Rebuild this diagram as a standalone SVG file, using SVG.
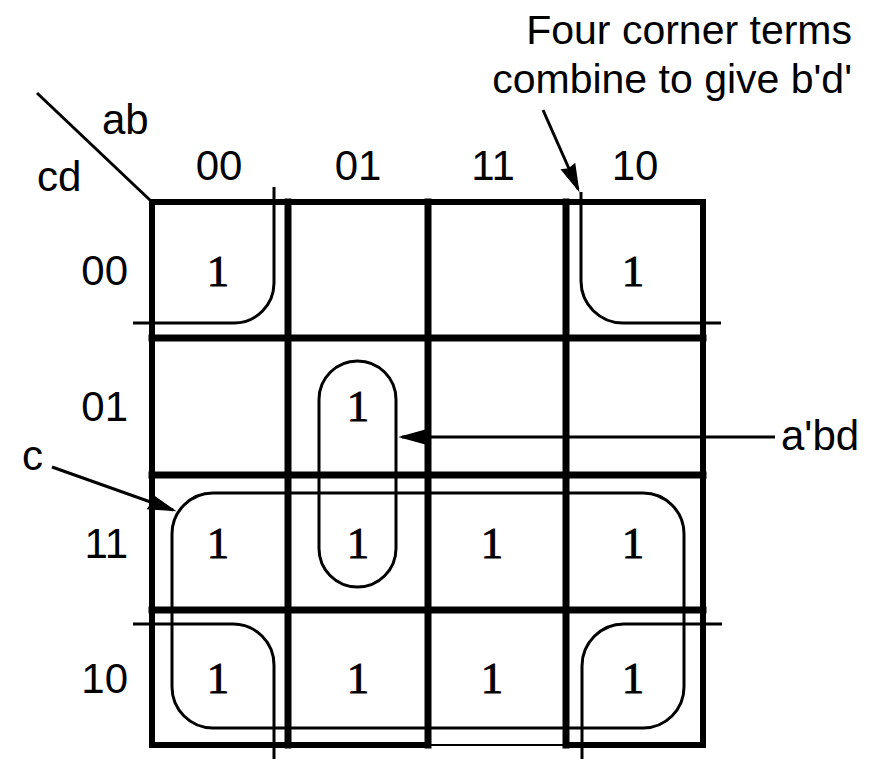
<svg xmlns="http://www.w3.org/2000/svg" width="883" height="759" viewBox="0 0 883 759">
<style>
.lbl{font-family:"Liberation Sans",Arial,sans-serif;font-size:42px;fill:#000}
.ttl{font-family:"Liberation Sans",Arial,sans-serif;font-size:41px;fill:#000;text-anchor:end}
.one{font-family:"Liberation Serif","Times New Roman",serif;font-size:45px;fill:#000;stroke:#000;stroke-width:0.9;text-anchor:middle}
.g{stroke:#000;stroke-width:7;fill:none;stroke-linecap:square}
.go{stroke:#000;stroke-width:6;fill:none;stroke-linecap:square}
.loop{stroke:#000;stroke-width:3;fill:none}
.conn{stroke:#000;stroke-width:3;fill:none}
</style>
<defs>
<marker id="ah" markerUnits="userSpaceOnUse" markerWidth="40" markerHeight="24" viewBox="-30 -12 40 24" refX="0" refY="0" orient="auto" overflow="visible">
<path d="M1,0 L-24,-7 L-22,0 L-24,7 Z" fill="#000" stroke="#000" stroke-width="1.5" stroke-linejoin="miter"/>
</marker>
</defs>
<rect width="883" height="759" fill="#fff"/>

<g id="grid">
<path class="go" d="M152,202 H703 V745 M152,202 V745 H428 M566,745 H703"/>
<path d="M428,745 H566" stroke="#000" stroke-width="2"/>
<path class="g" d="M288,202 V745 M428,202 V745 M566,202 V745 M152,338 H703 M152,475 H703 M152,610 H703"/>
</g>

<g id="corner-label">
<line x1="37" y1="93" x2="152" y2="202" stroke="#000" stroke-width="3"/>
<text class="lbl" x="102" y="134">ab</text>
<text class="lbl" x="37" y="191">cd</text>
</g>

<g id="col-headers" class="lbl" text-anchor="middle">
<text x="219" y="180">00</text>
<text x="358" y="180">01</text>
<text x="493" y="180">11</text>
<text x="635" y="180">10</text>
</g>
<g id="row-headers" class="lbl" text-anchor="end">
<text x="128" y="285">00</text>
<text x="128" y="421">01</text>
<text x="128" y="558">11</text>
<text x="128" y="693">10</text>
</g>

<g id="cells">
<g id="m0"><text class="one" x="218" y="286">1</text></g>
<g id="m8"><text class="one" x="633" y="286">1</text></g>
<g id="m5"><text class="one" x="358" y="421">1</text></g>
<g id="m3"><text class="one" x="218" y="558">1</text></g>
<g id="m7"><text class="one" x="358" y="558">1</text></g>
<g id="m15"><text class="one" x="492" y="558">1</text></g>
<g id="m11"><text class="one" x="633" y="558">1</text></g>
<g id="m2"><text class="one" x="218" y="693">1</text></g>
<g id="m6"><text class="one" x="358" y="693">1</text></g>
<g id="m14"><text class="one" x="492" y="693">1</text></g>
<g id="m10"><text class="one" x="633" y="693">1</text></g>
</g>

<g id="groups">
<g id="loop-bd"><path class="loop" d="M274,187 V283 A40,40 0 0 1 234,323 H133"/>
<path class="loop" d="M581,192 V281 A42,42 0 0 0 623,323 H721"/>
<path class="loop" d="M133,624 H233 A41,41 0 0 1 274,665 V759"/>
<path class="loop" d="M722,624 H624 A42,42 0 0 0 582,666 V759"/></g>
<g id="loop-c"><rect class="loop" x="172" y="493" width="512" height="235" rx="41"/></g>
<g id="loop-abd"><rect class="loop" x="319" y="361" width="77" height="226" rx="38.5"/></g>
</g>

<g id="annotations">
<text class="ttl" x="852" y="44">Four corner terms</text>
<text class="ttl" x="852" y="93">combine to give b'd'</text>
<text class="lbl" x="781" y="450">a'bd</text>
<text class="lbl" x="22" y="470">c</text>
</g>

<g id="connectors">
<line class="conn" x1="543" y1="110" x2="578" y2="189" marker-end="url(#ah)"/>
<line class="conn" x1="775" y1="437" x2="402" y2="437" marker-end="url(#ah)"/>
<line class="conn" x1="52" y1="467" x2="173" y2="510" marker-end="url(#ah)"/>
</g>
</svg>
